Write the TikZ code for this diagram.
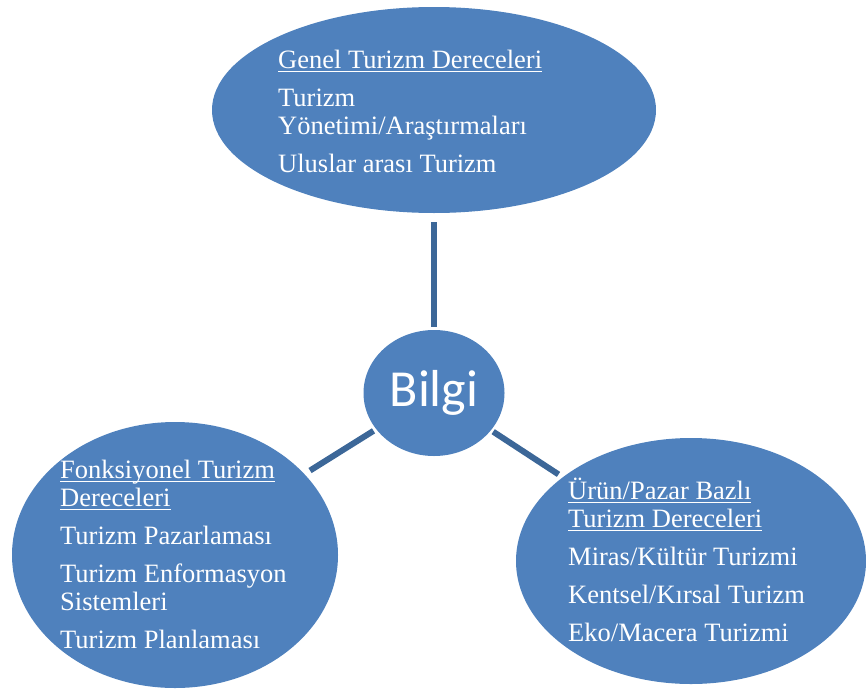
\documentclass[tikz,border=0pt]{standalone}
\usepackage{fontspec}
\setmainfont{Liberation Serif}
\newfontfamily\bilgifont{Carlito}
\usetikzlibrary{shapes.geometric}
\definecolor{bubblefill}{RGB}{79,129,189}
\definecolor{spokeline}{RGB}{60,103,152}
\newlength{\ulbarwd}
\newcommand{\ulbar}[1]{\settowidth{\ulbarwd}{#1}\rlap{\rule[-3.3pt]{\ulbarwd}{1.3pt}}#1}

\begin{document}
\begin{tikzpicture}[x=1pt, y=-1pt,
  bubble/.style={fill=bubblefill, ellipse, inner sep=0pt},
  spoke/.style={draw=spokeline, line width=6pt},
  blurb/.style={text=white, anchor=north west, inner sep=0pt, align=left,
    font=\fontsize{26.5}{28}\selectfont}]
\useasboundingbox (0,0) rectangle (866,688);

% Draw the four bubbles
\foreach \n/\x/\y/\w/\h in {genel/434/110/444/206, bilgi/434/393/141/126, fonk/175/555/326/266, urun/691/561/350/246} {
    \node[bubble, minimum width=\w pt, minimum height=\h pt] (\n) at (\x,\y) {};
}
\node[text=white, font=\bilgifont\fontsize{52}{60}\selectfont] (bilgitext) at (bilgi) {Bilgi};

% Spokes from the centre
\draw[spoke, shorten <=9pt, shorten >=3pt] (genel) -- (bilgi);
\draw[spoke, shorten <=6.5pt, shorten >=3pt] (fonk) -- (bilgi);
\draw[spoke, shorten <=5pt, shorten >=2.5pt] (urun) -- (bilgi);

% Texts in the bubbles
\node[blurb] (genellist) at (278,50) {\ulbar{Genel Turizm Dereceleri}\\[10pt]
  Turizm\\Yönetimi/Araştırmaları\\[10pt]
  Uluslar arası Turizm};
\node[blurb] (fonklist) at (60,460) {\ulbar{Fonksiyonel Turizm}\\\ulbar{Dereceleri}\\[10pt]
  Turizm Pazarlaması\\[10pt]
  Turizm Enformasyon\\Sistemleri\\[10pt]
  Turizm Planlaması};
\node[blurb] (urunlist) at (568,478) {\ulbar{Ürün/Pazar Bazlı}\\\ulbar{Turizm Dereceleri}\\[10pt]
  Miras/Kültür Turizmi\\[10pt]
  Kentsel/Kırsal Turizm\\[10pt]
  Eko/Macera Turizmi};

\end{tikzpicture}
\end{document}
